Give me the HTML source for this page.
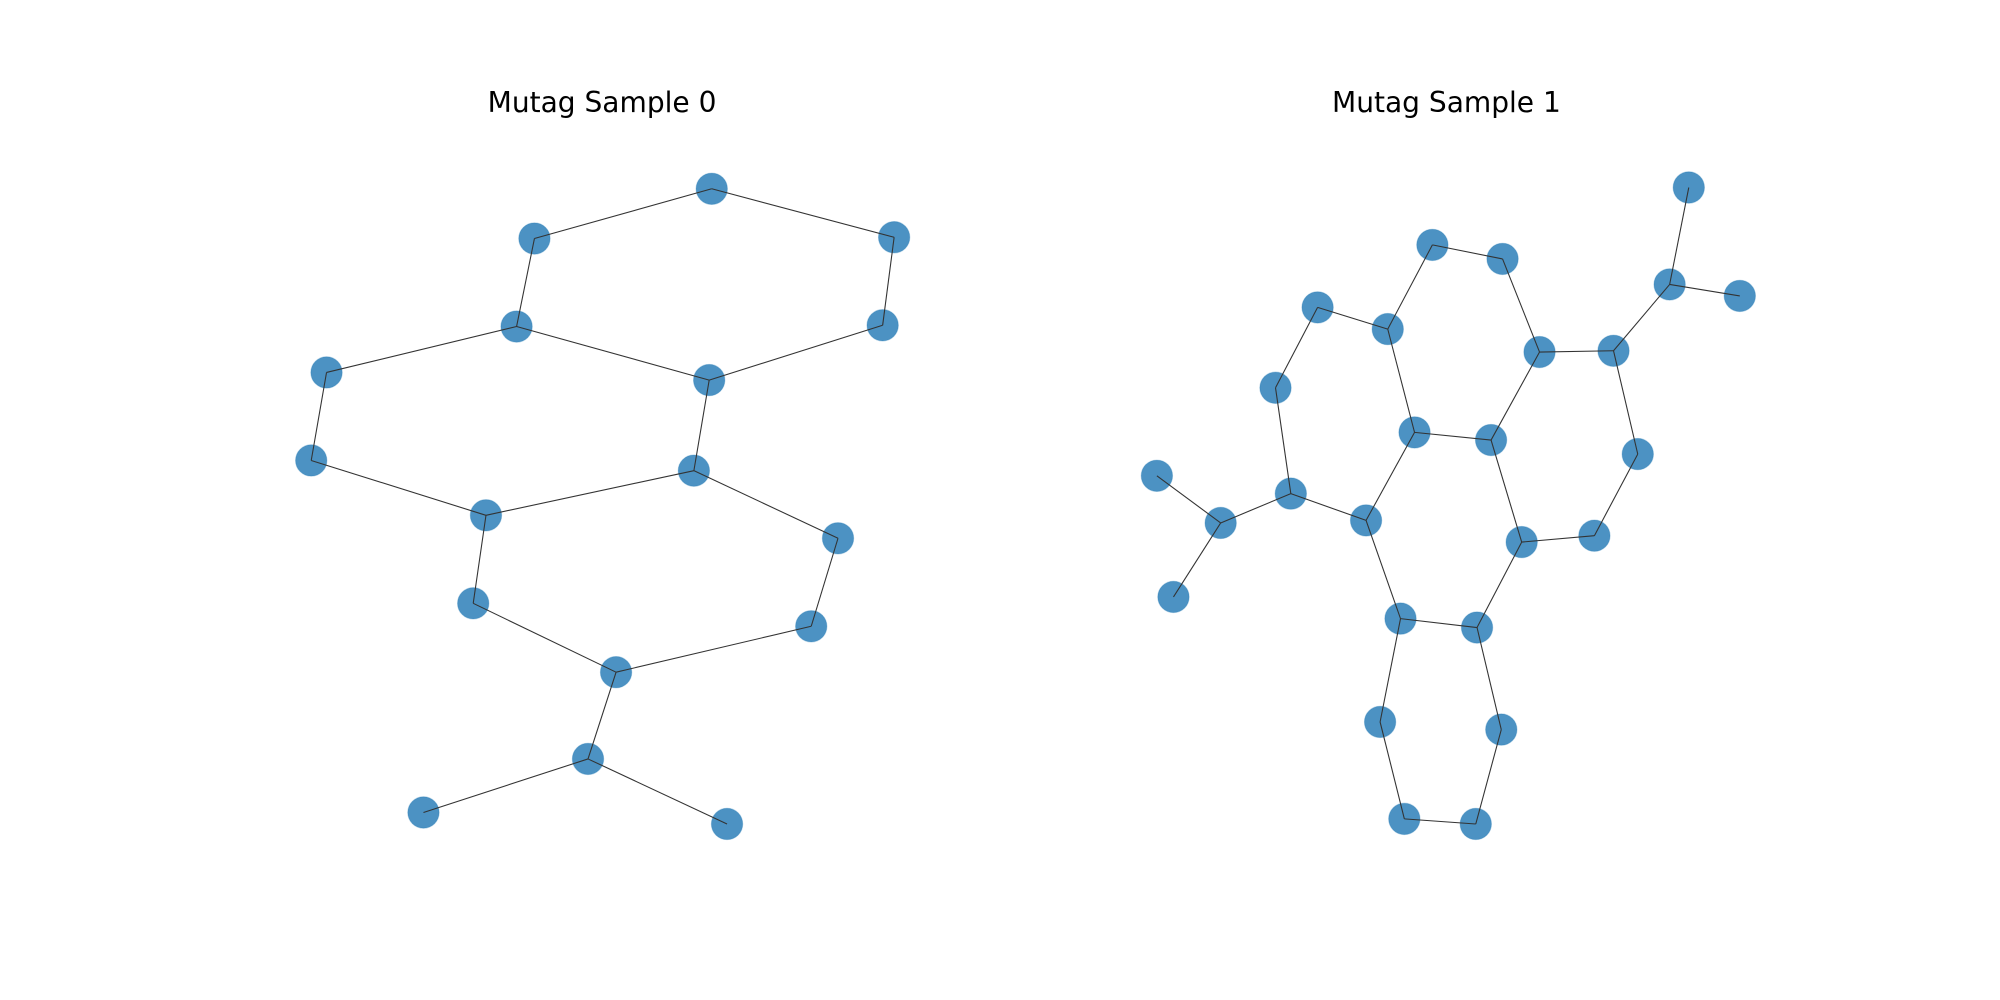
<!DOCTYPE html>
<html><head><style>html,body{margin:0;padding:0;background:#fff}svg{display:block}</style></head>
<body>
<svg width="2000" height="1000" viewBox="0 0 1568 784" xmlns="http://www.w3.org/2000/svg">
<rect width="1568" height="784" fill="#fff"/>
<text x="472" y="88" font-family="DejaVu Sans, Liberation Sans, sans-serif" font-size="22" text-anchor="middle">Mutag Sample 0</text>
<text x="1134" y="88" font-family="DejaVu Sans, Liberation Sans, sans-serif" font-size="22" text-anchor="middle">Mutag Sample 1</text>
<g transform="translate(1,1)">
<g id="nodes" fill="#1f77b4" fill-opacity="0.8" stroke="#1f77b4" stroke-opacity="0.3" stroke-width="0.8"></g>
<g id="edges" stroke="#333" stroke-width="0.85" fill="none"></g>
</g>
<script>
var N={A1:[557,147],A2:[418,186],A3:[700,185],A4:[404,255],A5:[691,254],A6:[255,291],A7:[555,297],A8:[243,360],A9:[543,368],A10:[380,403],A11:[656,421],A12:[370,472],A13:[635,490],A14:[482,526],A15:[460,594],A16:[331,636],A17:[569,645],
B1:[1323,146],B2:[1122,191],B3:[1177,202],B4:[1308,222],B5:[1363,231],B6:[1032,240],B7:[1087,257],B8:[1206,275],B9:[1264,274],B10:[999,303],B11:[1108,338],B12:[1168,344],B13:[1283,355],B14:[906,372],B15:[1011,386],B16:[956,409],B17:[1070,407],B18:[1192,424],B19:[1249,419],B20:[919,467],B21:[1097,484],B22:[1157,491],B23:[1081,565],B24:[1176,571],B25:[1100,641],B26:[1156,645]};
var E="A1-A2 A1-A3 A2-A4 A3-A5 A4-A6 A4-A7 A5-A7 A6-A8 A7-A9 A8-A10 A9-A10 A9-A11 A10-A12 A11-A13 A12-A14 A13-A14 A14-A15 A15-A16 A15-A17 B1-B4 B4-B5 B4-B9 B2-B3 B2-B7 B3-B8 B6-B7 B6-B10 B7-B11 B8-B9 B8-B12 B9-B13 B10-B15 B11-B12 B11-B17 B12-B18 B13-B19 B14-B16 B16-B15 B16-B20 B15-B17 B17-B21 B18-B19 B18-B22 B21-B22 B21-B23 B22-B24 B23-B25 B24-B26 B25-B26".split(" ");
var ns="http://www.w3.org/2000/svg",gn=document.getElementById("nodes"),ge=document.getElementById("edges");
for(var k in N){var c=document.createElementNS(ns,"circle");c.setAttribute("cx",N[k][0]);c.setAttribute("cy",N[k][1]);c.setAttribute("r",12.3);gn.appendChild(c);}
E.forEach(function(e){var p=e.split("-"),a=N[p[0]],b=N[p[1]],l=document.createElementNS(ns,"line");l.setAttribute("x1",a[0]);l.setAttribute("y1",a[1]);l.setAttribute("x2",b[0]);l.setAttribute("y2",b[1]);ge.appendChild(l);});
</script>
</svg>
</body></html>
